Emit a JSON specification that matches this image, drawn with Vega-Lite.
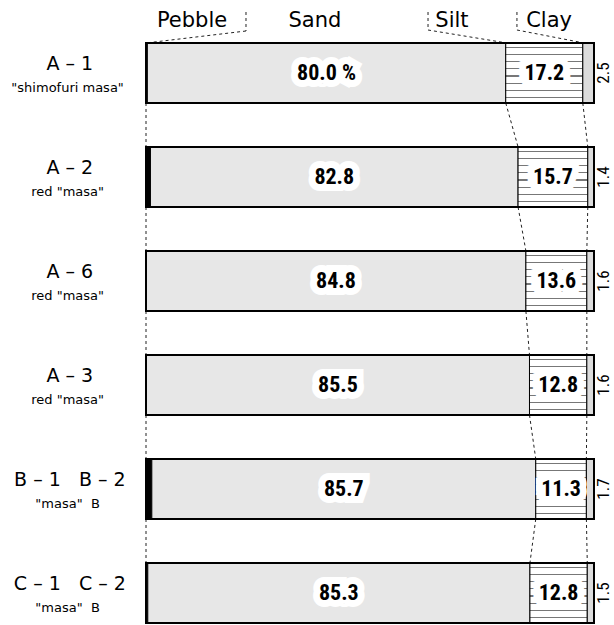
{
  "$schema": "https://vega.github.io/schema/vega-lite/v6.json",
  "autosize": "none",
  "width": 448,
  "height": 580,
  "padding": {"left": 146, "top": 43, "right": 20, "bottom": 2},
  "background": "white",
  "config": {"view": {"stroke": null}},
  "datasets": {
    "comp": [
      {"sample": "A-1", "ord": 1, "comp": "pebble", "co": 1, "pct": 0.3, "lab": "", "side": ""},
      {"sample": "A-1", "ord": 1, "comp": "sand", "co": 2, "pct": 80.0, "lab": "80.0 %", "side": ""},
      {"sample": "A-1", "ord": 1, "comp": "silt", "co": 3, "pct": 17.2, "lab": "17.2", "side": ""},
      {"sample": "A-1", "ord": 1, "comp": "clay", "co": 4, "pct": 2.5, "lab": "", "side": "2.5"},
      {"sample": "A-2", "ord": 2, "comp": "pebble", "co": 1, "pct": 1.0, "lab": "", "side": ""},
      {"sample": "A-2", "ord": 2, "comp": "sand", "co": 2, "pct": 82.8, "lab": "82.8", "side": ""},
      {"sample": "A-2", "ord": 2, "comp": "silt", "co": 3, "pct": 15.7, "lab": "15.7", "side": ""},
      {"sample": "A-2", "ord": 2, "comp": "clay", "co": 4, "pct": 1.4, "lab": "", "side": "1.4"},
      {"sample": "A-6", "ord": 3, "comp": "pebble", "co": 1, "pct": 0.0, "lab": "", "side": ""},
      {"sample": "A-6", "ord": 3, "comp": "sand", "co": 2, "pct": 84.8, "lab": "84.8", "side": ""},
      {"sample": "A-6", "ord": 3, "comp": "silt", "co": 3, "pct": 13.6, "lab": "13.6", "side": ""},
      {"sample": "A-6", "ord": 3, "comp": "clay", "co": 4, "pct": 1.6, "lab": "", "side": "1.6"},
      {"sample": "A-3", "ord": 4, "comp": "pebble", "co": 1, "pct": 0.1, "lab": "", "side": ""},
      {"sample": "A-3", "ord": 4, "comp": "sand", "co": 2, "pct": 85.5, "lab": "85.5", "side": ""},
      {"sample": "A-3", "ord": 4, "comp": "silt", "co": 3, "pct": 12.8, "lab": "12.8", "side": ""},
      {"sample": "A-3", "ord": 4, "comp": "clay", "co": 4, "pct": 1.6, "lab": "", "side": "1.6"},
      {"sample": "B", "ord": 5, "comp": "pebble", "co": 1, "pct": 1.3, "lab": "", "side": ""},
      {"sample": "B", "ord": 5, "comp": "sand", "co": 2, "pct": 85.7, "lab": "85.7", "side": ""},
      {"sample": "B", "ord": 5, "comp": "silt", "co": 3, "pct": 11.3, "lab": "11.3", "side": ""},
      {"sample": "B", "ord": 5, "comp": "clay", "co": 4, "pct": 1.7, "lab": "", "side": "1.7"},
      {"sample": "C", "ord": 6, "comp": "pebble", "co": 1, "pct": 0.4, "lab": "", "side": ""},
      {"sample": "C", "ord": 6, "comp": "sand", "co": 2, "pct": 85.3, "lab": "85.3", "side": ""},
      {"sample": "C", "ord": 6, "comp": "silt", "co": 3, "pct": 12.8, "lab": "12.8", "side": ""},
      {"sample": "C", "ord": 6, "comp": "clay", "co": 4, "pct": 1.5, "lab": "", "side": "1.5"}
    ],
    "samples": [
      {"sample": "A-1", "line1": "A – 1", "line2": "\"shimofuri masa\""},
      {"sample": "A-2", "line1": "A – 2", "line2": "red \"masa\""},
      {"sample": "A-6", "line1": "A – 6", "line2": "red \"masa\""},
      {"sample": "A-3", "line1": "A – 3", "line2": "red \"masa\""},
      {"sample": "B", "line1": "B – 1\u00a0\u00a0\u00a0B – 2", "line2": "\"masa\"\u00a0\u00a0B"},
      {"sample": "C", "line1": "C – 1\u00a0\u00a0\u00a0C – 2", "line2": "\"masa\"\u00a0\u00a0B"}
    ]
  },
  "layer": [
    {
      "data": {"name": "comp"},
      "transform": [
        {"stack": "pct", "groupby": ["sample"], "sort": [{"field": "co", "order": "ascending"}], "offset": "normalize", "as": ["x0", "x1"]},
        {"window": [{"op": "lead", "field": "x1", "as": "nx1"}, {"op": "lead", "field": "sample", "as": "nsample"}], "groupby": ["comp"], "sort": [{"field": "ord", "order": "ascending"}]},
        {"filter": "datum.nsample != null"}
      ],
      "layer": [
        {
          "transform": [{"filter": "datum.comp == 'sand' || datum.comp == 'silt'"}],
          "mark": {"type": "rule", "strokeDash": [3, 3], "strokeWidth": 1, "color": "#222", "yOffset": 30, "y2Offset": -30},
          "encoding": {
            "x": {"field": "x1", "type": "quantitative", "axis": null, "scale": {"domain": [0, 1], "nice": false, "zero": false}},
            "x2": {"field": "nx1"},
            "y": {"field": "sample", "type": "nominal", "axis": null,
                  "scale": {"type": "band", "domain": ["A-1", "A-2", "A-6", "A-3", "B", "C"], "paddingInner": 0.423, "paddingOuter": 0}},
            "y2": {"field": "nsample"}
          }
        },
        {
          "transform": [{"filter": "datum.comp == 'pebble'"}],
          "mark": {"type": "rule", "strokeDash": [3, 3], "strokeWidth": 1, "color": "#222", "yOffset": 30, "y2Offset": -30},
          "encoding": {
            "x": {"field": "x0", "type": "quantitative", "axis": null},
            "y": {"field": "sample", "type": "nominal", "axis": null},
            "y2": {"field": "nsample"}
          }
        }
      ]
    },
    {
      "data": {"name": "comp"},
      "transform": [{"filter": "datum.sample == 'A-1' && datum.comp == 'sand'"}],
      "layer": [
        {
          "mark": {"type": "rule", "strokeDash": [3, 3], "strokeWidth": 1, "color": "#222", "yOffset": -61, "y2Offset": -42},
          "encoding": {
            "x": {"datum": 0.2232, "type": "quantitative", "axis": null},
            "y": {"field": "sample", "type": "nominal", "axis": null},
            "y2": {"field": "sample"}
          }
        },
        {
          "mark": {"type": "rule", "strokeDash": [3, 3], "strokeWidth": 1, "color": "#222", "yOffset": -42, "y2Offset": -30},
          "encoding": {
            "x": {"datum": 0.2232, "type": "quantitative", "axis": null},
            "x2": {"datum": 0},
            "y": {"field": "sample", "type": "nominal", "axis": null},
            "y2": {"field": "sample"}
          }
        },
        {
          "mark": {"type": "rule", "strokeDash": [3, 3], "strokeWidth": 1, "color": "#222", "yOffset": -61, "y2Offset": -43},
          "encoding": {
            "x": {"datum": 0.6295, "type": "quantitative", "axis": null},
            "y": {"field": "sample", "type": "nominal", "axis": null},
            "y2": {"field": "sample"}
          }
        },
        {
          "mark": {"type": "rule", "strokeDash": [3, 3], "strokeWidth": 1, "color": "#222", "yOffset": -43, "y2Offset": -30},
          "encoding": {
            "x": {"datum": 0.6295, "type": "quantitative", "axis": null},
            "x2": {"datum": 0.8054},
            "y": {"field": "sample", "type": "nominal", "axis": null},
            "y2": {"field": "sample"}
          }
        },
        {
          "mark": {"type": "rule", "strokeDash": [3, 3], "strokeWidth": 1, "color": "#222", "yOffset": -61, "y2Offset": -43},
          "encoding": {
            "x": {"datum": 0.828, "type": "quantitative", "axis": null},
            "y": {"field": "sample", "type": "nominal", "axis": null},
            "y2": {"field": "sample"}
          }
        },
        {
          "mark": {"type": "rule", "strokeDash": [3, 3], "strokeWidth": 1, "color": "#222", "yOffset": -43, "y2Offset": -30},
          "encoding": {
            "x": {"datum": 0.828, "type": "quantitative", "axis": null},
            "x2": {"datum": 0.9779},
            "y": {"field": "sample", "type": "nominal", "axis": null},
            "y2": {"field": "sample"}
          }
        },
        {
          "mark": {"type": "text", "font": "DejaVu Sans", "fontSize": 21, "color": "#000", "align": "center", "baseline": "alphabetic", "dy": -46},
          "encoding": {
            "x": {"datum": 0.1027, "type": "quantitative", "axis": null},
            "y": {"field": "sample", "type": "nominal", "axis": null},
            "text": {"value": "Pebble"}
          }
        },
        {
          "mark": {"type": "text", "font": "DejaVu Sans", "fontSize": 21, "color": "#000", "align": "center", "baseline": "alphabetic", "dy": -46},
          "encoding": {
            "x": {"datum": 0.377, "type": "quantitative", "axis": null},
            "y": {"field": "sample", "type": "nominal", "axis": null},
            "text": {"value": "Sand"}
          }
        },
        {
          "mark": {"type": "text", "font": "DejaVu Sans", "fontSize": 21, "color": "#000", "align": "center", "baseline": "alphabetic", "dy": -46},
          "encoding": {
            "x": {"datum": 0.683, "type": "quantitative", "axis": null},
            "y": {"field": "sample", "type": "nominal", "axis": null},
            "text": {"value": "Silt"}
          }
        },
        {
          "mark": {"type": "text", "font": "DejaVu Sans", "fontSize": 21, "color": "#000", "align": "center", "baseline": "alphabetic", "dy": -46},
          "encoding": {
            "x": {"datum": 0.8996, "type": "quantitative", "axis": null},
            "y": {"field": "sample", "type": "nominal", "axis": null},
            "text": {"value": "Clay"}
          }
        }
      ]
    },
    {
      "data": {"name": "comp"},
      "transform": [
        {"stack": "pct", "groupby": ["sample"], "sort": [{"field": "co", "order": "ascending"}], "offset": "normalize", "as": ["x0", "x1"]}
      ],
      "layer": [
        {
          "transform": [{"filter": "datum.comp == 'pebble'"}],
          "mark": {"type": "bar", "fill": "#000", "stroke": "#000", "strokeWidth": 1},
          "encoding": {
            "x": {"field": "x0", "type": "quantitative", "axis": null},
            "x2": {"field": "x1"},
            "y": {"field": "sample", "type": "nominal", "axis": null}
          }
        },
        {
          "transform": [{"filter": "datum.comp == 'sand'"}],
          "mark": {"type": "bar", "fill": "#e7e7e7", "stroke": "#000", "strokeWidth": 1},
          "encoding": {
            "x": {"field": "x0", "type": "quantitative", "axis": null},
            "x2": {"field": "x1"},
            "y": {"field": "sample", "type": "nominal", "axis": null}
          }
        },
        {
          "transform": [{"filter": "datum.comp == 'silt'"}],
          "mark": {"type": "bar", "stroke": "#000", "strokeWidth": 1,
                   "fill": {"gradient": "linear", "x1": 0, "y1": 0, "x2": 0, "y2": 1, "stops": [
                     {"offset": 0, "color": "#fff"},
                     {"offset": 0.06, "color": "#fff"}, {"offset": 0.06, "color": "#777"}, {"offset": 0.08, "color": "#777"}, {"offset": 0.08, "color": "#fff"},
                     {"offset": 0.18, "color": "#fff"}, {"offset": 0.18, "color": "#777"}, {"offset": 0.20, "color": "#777"}, {"offset": 0.20, "color": "#fff"},
                     {"offset": 0.30, "color": "#fff"}, {"offset": 0.30, "color": "#777"}, {"offset": 0.32, "color": "#777"}, {"offset": 0.32, "color": "#fff"},
                     {"offset": 0.42, "color": "#fff"}, {"offset": 0.42, "color": "#777"}, {"offset": 0.44, "color": "#777"}, {"offset": 0.44, "color": "#fff"},
                     {"offset": 0.54, "color": "#fff"}, {"offset": 0.54, "color": "#777"}, {"offset": 0.56, "color": "#777"}, {"offset": 0.56, "color": "#fff"},
                     {"offset": 0.66, "color": "#fff"}, {"offset": 0.66, "color": "#777"}, {"offset": 0.68, "color": "#777"}, {"offset": 0.68, "color": "#fff"},
                     {"offset": 0.78, "color": "#fff"}, {"offset": 0.78, "color": "#777"}, {"offset": 0.80, "color": "#777"}, {"offset": 0.80, "color": "#fff"},
                     {"offset": 0.90, "color": "#fff"}, {"offset": 0.90, "color": "#777"}, {"offset": 0.92, "color": "#777"}, {"offset": 0.92, "color": "#fff"},
                     {"offset": 1, "color": "#fff"}
                   ]}},
          "encoding": {
            "x": {"field": "x0", "type": "quantitative", "axis": null},
            "x2": {"field": "x1"},
            "y": {"field": "sample", "type": "nominal", "axis": null}
          }
        },
        {
          "transform": [{"filter": "datum.comp == 'clay'"}],
          "mark": {"type": "bar", "fill": "#dcdcdc", "stroke": "#000", "strokeWidth": 1},
          "encoding": {
            "x": {"field": "x0", "type": "quantitative", "axis": null},
            "x2": {"field": "x1"},
            "y": {"field": "sample", "type": "nominal", "axis": null}
          }
        },
        {
          "transform": [{"aggregate": [{"op": "min", "field": "x0", "as": "lo"}, {"op": "max", "field": "x1", "as": "hi"}], "groupby": ["sample"]}],
          "mark": {"type": "bar", "fillOpacity": 0, "stroke": "#000", "strokeWidth": 2},
          "encoding": {
            "x": {"field": "lo", "type": "quantitative", "axis": null},
            "x2": {"field": "hi"},
            "y": {"field": "sample", "type": "nominal", "axis": null}
          }
        },
        {
          "transform": [{"filter": "datum.comp == 'clay'"}],
          "mark": {"type": "text", "font": "Roboto Condensed, Roboto", "fontSize": 17, "color": "#000", "align": "center", "baseline": "middle", "angle": 270},
          "encoding": {
            "x": {"datum": 1.022, "type": "quantitative", "axis": null},
            "y": {"field": "sample", "type": "nominal", "axis": null},
            "text": {"field": "side"}
          }
        }
      ]
    },
    {
      "data": {"name": "comp"},
      "layer": [
        {
          "mark": {"type": "text", "font": "Roboto Condensed, Roboto", "fontWeight": "bold", "fontSize": 22, "color": "#fff", "stroke": "#fff", "strokeWidth": 14, "strokeJoin": "miter", "align": "center", "baseline": "middle"},
          "encoding": {
            "x": {"field": "pct", "type": "quantitative", "stack": "normalize", "bandPosition": 0.5, "axis": null},
            "y": {"field": "sample", "type": "nominal", "axis": null},
            "detail": {"field": "comp"},
            "order": {"field": "co"},
            "text": {"field": "lab"}
          }
        },
        {
          "mark": {"type": "text", "font": "Roboto Condensed, Roboto", "fontWeight": "bold", "fontSize": 22, "color": "#000", "align": "center", "baseline": "middle"},
          "encoding": {
            "x": {"field": "pct", "type": "quantitative", "stack": "normalize", "bandPosition": 0.5, "axis": null},
            "y": {"field": "sample", "type": "nominal", "axis": null},
            "detail": {"field": "comp"},
            "order": {"field": "co"},
            "text": {"field": "lab"}
          }
        }
      ]
    },
    {
      "data": {"name": "samples"},
      "layer": [
        {
          "mark": {"type": "text", "font": "DejaVu Sans", "fontSize": 19, "color": "#000", "align": "center", "baseline": "middle", "dy": -9},
          "encoding": {
            "x": {"datum": -0.17, "type": "quantitative", "axis": null},
            "y": {"field": "sample", "type": "nominal", "axis": null},
            "text": {"field": "line1"}
          }
        },
        {
          "mark": {"type": "text", "font": "DejaVu Sans", "fontSize": 13, "color": "#000", "align": "center", "baseline": "middle", "dy": 15},
          "encoding": {
            "x": {"datum": -0.175, "type": "quantitative", "axis": null},
            "y": {"field": "sample", "type": "nominal", "axis": null},
            "text": {"field": "line2"}
          }
        }
      ]
    }
  ]
}
